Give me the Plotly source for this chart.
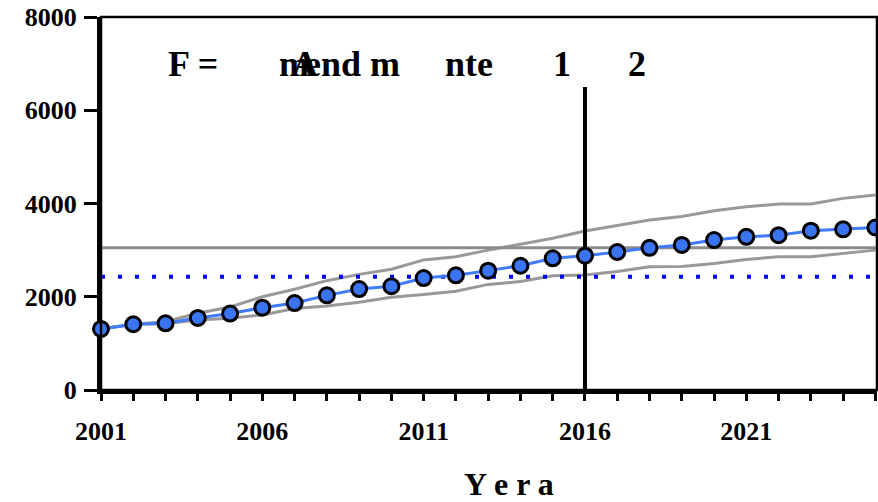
import plotly.graph_objects as go

years = list(range(2001, 2026))
central = [1310, 1410, 1430, 1545, 1640, 1765, 1865, 2030, 2165, 2225, 2400, 2460,
           2560, 2665, 2825, 2880, 2960, 3050, 3112, 3215, 3285, 3320, 3417, 3446, 3485]
upper = [1310, 1410, 1465, 1645, 1780, 2000, 2160, 2345, 2480, 2590, 2790, 2860,
         3000, 3130, 3255, 3410, 3520, 3645, 3720, 3845, 3930, 3990, 3990, 4110, 4180]
lower = [1310, 1410, 1420, 1500, 1540, 1610, 1750, 1800, 1880, 1990, 2050, 2120,
         2265, 2325, 2450, 2465, 2540, 2645, 2650, 2715, 2800, 2860, 2860, 2930, 3000]
gray_level = 3050
blue_level = 2430
split_year = 2016
split_top = 6500

y_ticks = [0, 2000, 4000, 6000, 8000]
y_ticktext = ["0", "2000", "4000", "6000", "8000"]
x_ticks = [2001, 2006, 2011, 2016, 2021]
x_ticktext = ["2001", "2006", "2011", "2016", "2021"]

title_parts = ["F =", "m", "A", "end m", "nte", "1", "2"]
title_left_px = [166, 277, 290, 303, 443, 552, 627]

x_end = 2025.05

fig = go.Figure()
fig.add_trace(go.Scatter(x=years, y=upper, mode="lines",
                         line=dict(color="#999999", width=3), showlegend=False))
fig.add_trace(go.Scatter(x=years, y=lower, mode="lines",
                         line=dict(color="#999999", width=3), showlegend=False))
fig.add_trace(go.Scatter(x=[years[0], x_end], y=[gray_level, gray_level], mode="lines",
                         line=dict(color="#8c8c8c", width=3), showlegend=False))
fig.add_trace(go.Scatter(x=[years[0], x_end], y=[blue_level, blue_level], mode="lines",
                         line=dict(color="#0000ff", width=4, dash="4px,13px"), showlegend=False))
fig.add_trace(go.Scatter(x=[split_year, split_year], y=[0, split_top], mode="lines",
                         line=dict(color="black", width=4), showlegend=False))
fig.add_trace(go.Scatter(x=years, y=central, mode="lines+markers", cliponaxis=False,
                         line=dict(color="#3f7cff", width=3),
                         marker=dict(size=15, color="#3b74f0",
                                     line=dict(color="black", width=3)),
                         showlegend=False))

font_family = "Liberation Serif"

for txt, px in zip(title_parts, title_left_px):
    fig.add_annotation(x=(px - 101) / 777, y=(390 - 64) / 373, xref="paper", yref="paper",
                       text=f"<b>{txt}</b>", showarrow=False, xanchor="left", yanchor="middle",
                       font=dict(family=font_family, size=36, color="black"))

fig.add_annotation(x=(510 - 101) / 777, y=(390 - 484) / 373, xref="paper", yref="paper",
                   text="<b>Y e r a</b>", showarrow=False, xanchor="center", yanchor="middle",
                   font=dict(family=font_family, size=32, color="black"))

fig.add_shape(type="rect", xref="paper", yref="paper", x0=0, x1=1, y0=0, y1=1,
              line=dict(color="black", width=2.5), layer="above")

fig.update_layout(
    width=878, height=502,
    margin=dict(l=101, r=1, t=17, b=112),
    paper_bgcolor="white", plot_bgcolor="white",
    font=dict(family=font_family, color="black"),
    xaxis=dict(range=[2001, x_end], showgrid=False, zeroline=False,
               showline=True, linecolor="black", linewidth=4,
               ticks="outside", ticklen=7, tickwidth=3, tickcolor="black",
               tickvals=x_ticks, ticktext=x_ticktext, ticklabelstandoff=8,
               tickfont=dict(family=font_family, size=26, color="black", weight="bold"),
               minor=dict(dtick=1, tick0=2001, ticks="outside", ticklen=7, tickwidth=3,
                          tickcolor="black", showgrid=False),
               layer="below traces"),
    yaxis=dict(range=[0, 8000], showgrid=False, zeroline=False,
               showline=True, linecolor="black", linewidth=4,
               ticks="outside", ticklen=13, tickwidth=3, tickcolor="black",
               tickvals=y_ticks, ticktext=y_ticktext, ticklabelstandoff=2,
               tickfont=dict(family=font_family, size=26, color="black", weight="bold"),
               layer="below traces"),
)

fig.write_html("out.html", config={"displayModeBar": False},
               post_script="document.body.style.margin='0';")
